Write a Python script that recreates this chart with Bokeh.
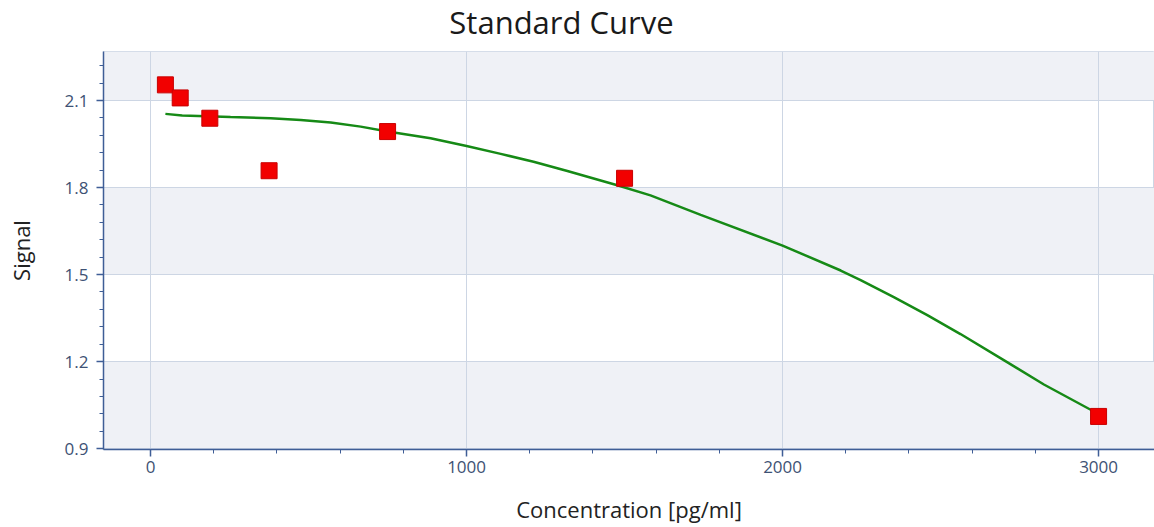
from bokeh.plotting import figure
from bokeh.models import FixedTicker, Range1d, Label
from bokeh.embed import file_html
from bokeh.resources import INLINE

# ---- data ----
std_conc = [46.875, 93.75, 187.5, 375, 750, 1500, 3000]
std_signal = [2.154, 2.109, 2.039, 1.858, 1.993, 1.832, 1.011]

fit_conc = [46.875, 100, 253, 380, 475, 570, 665, 750, 886, 1000, 1108, 1212, 1319,
            1477, 1582, 1741, 2000, 2184, 2247, 2352, 2458, 2563, 2700, 2827, 2975, 3000]
fit_signal = [2.054, 2.048, 2.043, 2.039, 2.033, 2.024, 2.010, 1.993, 1.970, 1.943, 1.916, 1.889, 1.857,
              1.808, 1.773, 1.706, 1.600, 1.514, 1.481, 1.422, 1.360, 1.295, 1.205, 1.121, 1.034, 1.020]

x_ticks = [0, 1000, 2000, 3000]
y_ticks = [0.9, 1.2, 1.5, 1.8, 2.1]

x_minor = [i * 200 for i in range(-1, 17)]
y_minor = [round(0.84 + i * 0.06, 2) for i in range(0, 25)]

TITLE = "Standard Curve"
FONT = "Open Sans"
AXIS_COL = "#3f5e96"
TICK_COL = "#3e5274"
GRID_COL = "#cdd6e4"

W, H = 1154, 527
LEFT, TOP, BOTTOM = 103, 51, 78

p = figure(width=W, height=H, output_backend="svg", toolbar_location=None,
           x_range=Range1d(-149, 3177), y_range=Range1d(0.897, 2.269),
           min_border_left=LEFT, min_border_right=0, min_border_top=TOP, min_border_bottom=BOTTOM,
           background_fill_color="white", border_fill_color="white",
           outline_line_color=GRID_COL)

# title drawn in the area above the frame
p.add_layout(Label(x=458, y=30, x_units="screen", y_units="screen",
                   text=TITLE, text_align="center", text_baseline="alphabetic",
                   text_font=FONT, text_font_size="31px", text_color="#1a1a1a"), "above")

# grids
p.xgrid.grid_line_color = GRID_COL
p.ygrid.grid_line_color = GRID_COL
p.ygrid.band_fill_color = "#eff1f6"
p.ygrid.band_fill_alpha = 1.0
p.center = [p.ygrid[0], p.xgrid[0]] + [r for r in p.center if r not in (p.xgrid[0], p.ygrid[0])]

# axes
p.xaxis.ticker = FixedTicker(ticks=x_ticks, minor_ticks=x_minor)
p.yaxis.ticker = FixedTicker(ticks=y_ticks, minor_ticks=y_minor)
p.xaxis.axis_label = "Concentration [pg/ml]"
p.yaxis.axis_label = "Signal"
for ax in (p.xaxis, p.yaxis):
    ax.axis_line_color = AXIS_COL
    ax.axis_line_width = 1.5
    ax.major_tick_line_color = AXIS_COL
    ax.minor_tick_line_color = AXIS_COL
    ax.major_tick_line_width = 1.5
    ax.major_tick_out = 7
    ax.major_tick_in = 0
    ax.minor_tick_out = 4
    ax.minor_tick_in = 0
    ax.major_label_text_font = FONT
    ax.major_label_text_font_size = "17px"
    ax.major_label_text_color = TICK_COL
    ax.axis_label_text_font = FONT
    ax.axis_label_text_font_size = "22px"
    ax.axis_label_text_font_style = "normal"
    ax.axis_label_text_color = "#222222"
p.yaxis.axis_label_standoff = 26
p.xaxis.axis_label_standoff = 18
p.yaxis.major_label_standoff = 8
p.xaxis.major_label_standoff = 4

# fitted curve
p.line(fit_conc, fit_signal, line_color="#168a16", line_width=2.5)

# standards
p.scatter(std_conc, std_signal, marker="square", size=16,
          fill_color="#f20000", line_color="#c80000", line_width=1)

open("out.html", "w").write(file_html(p, INLINE))
